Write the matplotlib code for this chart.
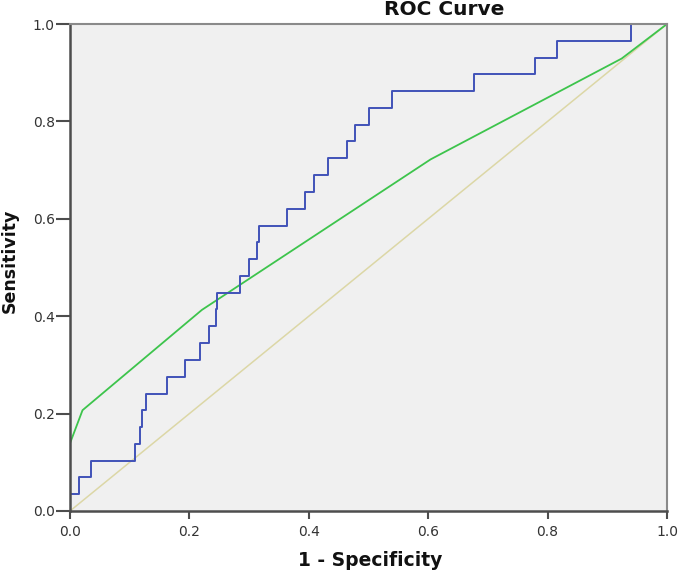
import matplotlib.pyplot as plt

plt.rcParams['font.family'] = ['DejaVu Sans']

# ----------------------------
# ROC data
# ----------------------------
blue_fpr = [0, 0, 0.015, 0.035, 0.109, 0.118, 0.120, 0.128, 0.162, 0.193,
            0.218, 0.232, 0.245, 0.247, 0.284, 0.300, 0.314, 0.317, 0.364,
            0.394, 0.408, 0.432, 0.464, 0.478, 0.500, 0.539, 0.677, 0.779,
            0.816, 0.940, 1.0]
blue_tpr = [0, 0.034, 0.069, 0.103, 0.138, 0.172, 0.207, 0.241, 0.276, 0.310,
            0.345, 0.379, 0.414, 0.448, 0.483, 0.517, 0.552, 0.586, 0.621,
            0.655, 0.690, 0.724, 0.759, 0.793, 0.828, 0.862, 0.897, 0.931,
            0.966, 1.0, 1.0]

green_fpr = [0, 0, 0.021, 0.221, 0.604, 0.924, 1.0]
green_tpr = [0, 0.139, 0.207, 0.413, 0.722, 0.929, 1.0]

ref_line = [0, 1]

ticks = [0.0, 0.2, 0.4, 0.6, 0.8, 1.0]
tick_labels = ["0.0", "0.2", "0.4", "0.6", "0.8", "1.0"]

# ----------------------------
# Figure
# ----------------------------
fig = plt.figure(figsize=(6.79, 5.71), dpi=100)
ax = fig.add_axes([70 / 679, 60 / 571, 597 / 679, 487 / 571])
ax.set_facecolor("#f0f0f0")

ax.plot(ref_line, ref_line, color="#dcd7a6", lw=1.1)
ax.plot(green_fpr, green_tpr, color="#3dc44c", lw=1.3)
ax.step(blue_fpr, blue_tpr, where="post", color="#4152b8", lw=1.4)

ax.set_xlim(0, 1)
ax.set_ylim(0, 1)
ax.set_xticks(ticks)
ax.set_xticklabels(tick_labels)
ax.set_yticks(ticks)
ax.set_yticklabels(tick_labels)
ax.tick_params(axis="both", labelsize=10, labelcolor="#333333",
               color="#4d4d4d", width=1.5)
ax.tick_params(axis="x", length=6, pad=4)
ax.tick_params(axis="y", length=10, pad=1)

for side in ["left", "bottom"]:
    ax.spines[side].set_color("#4d4d4d")
    ax.spines[side].set_linewidth(1.8)
for side in ["top", "right"]:
    ax.spines[side].set_color("#8a8a8a")
    ax.spines[side].set_linewidth(1.5)

fig.text(444 / 679, 1 - 15 / 571, "ROC Curve", ha="center", va="baseline",
         fontsize=14.5, fontweight="bold", color="#111111")
fig.text(370 / 679, 1 - 560 / 571, "1 - Specificity", ha="center",
         va="center", fontsize=13.5, fontweight="bold", color="#111111")
fig.text(10 / 679, 1 - 261 / 571, "Sensitivity", ha="center", va="center",
         rotation=90, fontsize=12.5, fontweight="bold", color="#111111")

fig.savefig("out.png", dpi=100)
